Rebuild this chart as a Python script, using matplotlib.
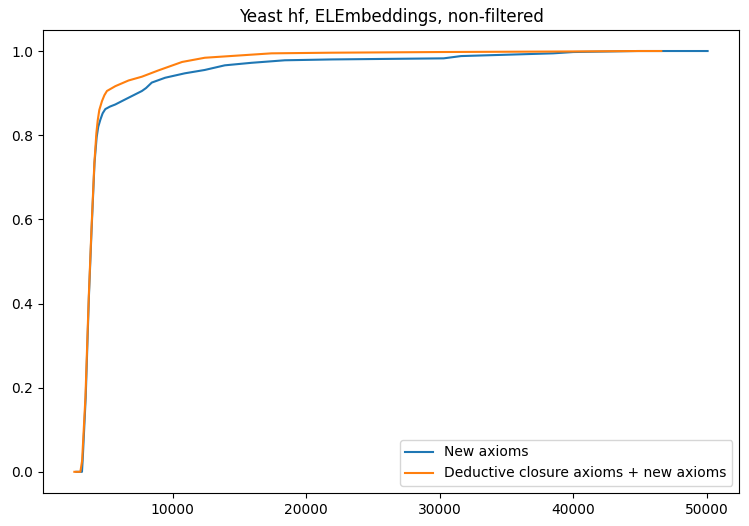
import numpy as np
import matplotlib
matplotlib.use('Agg')
import matplotlib.pyplot as plt

# values
new_x = [2780, 3200, 3250, 3480, 3720, 3920, 4140, 4300, 4420, 4580, 4750, 4950, 5300, 5700,
         6440, 7190, 7690, 8000, 8430, 9430, 10900, 12400, 13900, 15900, 18400, 21900,
         30300, 31600, 38500, 40000, 44800, 50070]
new_y = [0.0, 0.0, 0.026, 0.177, 0.416, 0.575, 0.734, 0.795, 0.820, 0.837, 0.852, 0.862, 0.868, 0.873,
         0.885, 0.897, 0.905, 0.912, 0.925, 0.9365, 0.947, 0.955, 0.966, 0.972, 0.978, 0.980,
         0.9826, 0.988, 0.9945, 0.9976, 1.0, 1.0]

ded_x = [2630, 3080, 3210, 3460, 3710, 3910, 4130, 4280, 4380, 4500, 4700, 4880, 5070, 5700,
         6690, 7690, 8930, 10700, 12400, 17400, 21900, 30000, 40000, 45000, 46600]
ded_y = [0.0, 0.0, 0.026, 0.177, 0.416, 0.575, 0.734, 0.805, 0.835, 0.860, 0.881, 0.895, 0.905, 0.9165,
         0.930, 0.939, 0.954, 0.974, 0.984, 0.9945, 0.996, 0.9976, 0.999, 1.0, 1.0]

fig = plt.figure(figsize=(7.49, 5.26), dpi=100)
ax = fig.add_axes([0.057, 0.063, 0.930, 0.880])
ax.plot(new_x, new_y, label='New axioms')
ax.plot(ded_x, ded_y, label='Deductive closure axioms + new axioms')
ax.set_title('Yeast hf, ELEmbeddings, non-filtered')
ax.legend(loc='lower right')
fig.savefig('out.png', dpi=100)
